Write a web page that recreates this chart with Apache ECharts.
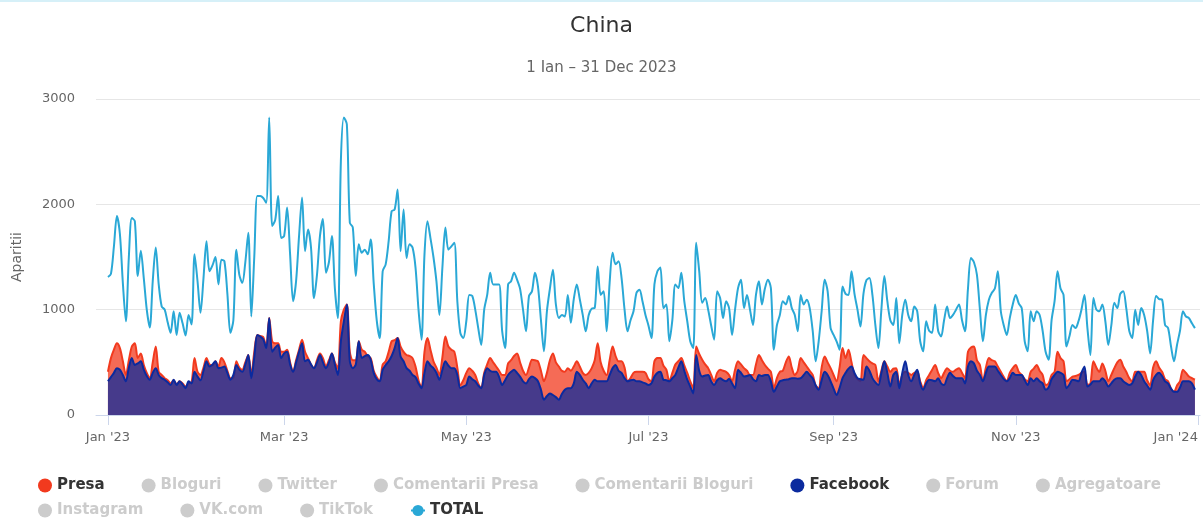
<!DOCTYPE html>
<html>
<head>
<meta charset="utf-8">
<script src="https://cdn.jsdelivr.net/npm/echarts@6/dist/echarts.min.js"></script>
<style>
  html, body { margin: 0; padding: 0; background: #fff; }
  #chart { width: 1203px; height: 519px; }
</style>
</head>
<body>
<div id="chart"></div>
<script>
// daily values, 1 Jan 2023 .. 31 Dec 2023 (365 days)
var total = [
    1310, 1340, 1600, 1890, 1720, 1250, 890, 1500, 1870, 1840,
    1320, 1560, 1300, 1000, 830, 1270, 1590, 1240, 1030, 1000,
    880, 780, 985, 760, 970, 870, 755, 950, 860, 1525,
    1270, 970, 1300, 1650, 1365, 1420, 1500, 1240, 1475, 1460,
    1150, 780, 900, 1570, 1330, 1255, 1450, 1730, 935, 1500,
    2080, 2080, 2060, 2015, 2825, 1795, 1850, 2080, 1680, 1700,
    1970, 1525, 1080, 1270, 1700, 2065, 1555, 1760, 1590, 1110,
    1330, 1700, 1860, 1350, 1450, 1700, 1200, 920, 2410, 2825,
    2760, 1825, 1780, 1320, 1620, 1540, 1570, 1525, 1665, 1250,
    900, 730, 1365, 1430, 1650, 1935, 1950, 2140, 1555, 1950,
    1490, 1620, 1590, 1400, 1000, 715, 1525, 1840, 1680, 1500,
    1270, 950, 1400, 1780, 1570, 1600, 1635, 1080, 780, 730,
    890, 1140, 1130, 1000, 825, 665, 1000, 1140, 1350, 1240,
    1240, 1240, 800, 635, 1240, 1270, 1350, 1285, 1200, 1000,
    795, 1130, 1175, 1350, 1220, 900, 605, 985, 1200, 1380,
    1050, 920, 950, 935, 1140, 875, 1100, 1240, 1100, 950,
    795, 950, 1010, 1015, 1410, 1140, 1175, 795, 1255, 1540,
    1430, 1460, 1300, 1000, 795, 900, 985, 1160, 1190, 1080,
    950, 850, 730, 1240, 1365, 1400, 1015, 1050, 700, 900,
    1240, 1205, 1350, 1080, 890, 700, 635, 1635, 1365, 1065,
    1110, 1000, 850, 715, 1175, 1110, 920, 1080, 1015, 760,
    1000, 1205, 1285, 1015, 1140, 1000, 855, 1140, 1270, 1050,
    1200, 1285, 1205, 620, 850, 950, 1080, 1050, 1130, 1015,
    950, 795, 1140, 1050, 1095, 1015, 800, 510, 700, 985,
    1285, 1175, 825, 760, 700, 620, 1220, 1150, 1140, 1365,
    1150, 1000, 840, 1150, 1280, 1300, 1140, 850, 635, 1000,
    1320, 1080, 900, 855, 1110, 680, 950, 1095, 950, 890,
    1030, 985, 700, 605, 890, 800, 780, 1050, 800, 745,
    900, 1030, 920, 950, 1000, 1050, 900, 795, 1200, 1490,
    1450, 1330, 1000, 700, 950, 1095, 1160, 1200, 1365, 985,
    850, 760, 920, 1050, 1140, 1060, 1015, 700, 605, 985,
    890, 985, 950, 800, 600, 525, 900, 1080, 1365, 1200,
    1140, 650, 750, 855, 825, 890, 1000, 1140, 825, 570,
    1110, 1000, 985, 1050, 890, 665, 850, 1065, 1015, 1150,
    1175, 1015, 800, 730, 1000, 855, 1015, 950, 800, 585,
    900, 1130, 1100, 1095, 855, 825, 650, 510, 665, 800,
    985, 935, 920, 870, 825
];
var presa = [
    410, 540, 620, 680, 635, 510, 380, 520, 650, 680,
    540, 585, 475, 400, 350, 500, 650, 410, 380, 350,
    330, 300, 330, 290, 320, 300, 270, 300, 310, 540,
    410, 380, 450, 540, 480, 470, 510, 460, 540, 500,
    420, 350, 350, 510, 450, 430, 500, 570, 380, 600,
    760, 750, 740, 650, 920, 700, 680, 680, 600, 600,
    620, 500, 410, 520, 620, 715, 600, 540, 480, 445,
    520, 585, 540, 460, 520, 585, 500, 445, 890, 1000,
    1050, 600, 520, 520, 700, 620, 600, 560, 540, 420,
    360, 320, 480, 510, 600, 700, 710, 730, 650, 600,
    570, 560, 540, 460, 330, 255, 600, 730, 620, 510,
    450, 380, 550, 745, 650, 620, 600, 450, 285, 330,
    400, 445, 420, 380, 300, 255, 400, 480, 540, 500,
    460, 420, 380, 380, 490, 520, 560, 585, 500, 420,
    380, 450, 525, 520, 510, 420, 320, 400, 520, 585,
    500, 460, 420, 410, 445, 420, 460, 510, 460, 400,
    380, 400, 445, 520, 680, 500, 420, 380, 520, 650,
    560, 510, 510, 450, 320, 350, 400, 410, 410, 410,
    400, 340, 320, 510, 540, 540, 470, 430, 320, 400,
    480, 510, 540, 470, 400, 320, 255, 650, 580, 525,
    480, 445, 380, 320, 400, 430, 420, 410, 380, 320,
    430, 510, 480, 445, 420, 380, 380, 480, 570, 520,
    475, 440, 410, 255, 350, 410, 420, 500, 555, 450,
    380, 420, 540, 500, 460, 420, 380, 280, 255, 450,
    555, 500, 445, 380, 320, 450, 635, 540, 620, 500,
    380, 340, 320, 570, 540, 510, 490, 475, 320, 420,
    510, 460, 410, 440, 445, 285, 380, 410, 400, 380,
    400, 410, 320, 255, 330, 380, 430, 475, 400, 350,
    400, 445, 420, 410, 430, 445, 400, 350, 600, 640,
    650, 520, 475, 320, 450, 540, 520, 510, 460, 410,
    360, 320, 400, 445, 475, 410, 380, 340, 320, 410,
    440, 475, 420, 380, 285, 300, 380, 410, 600, 540,
    510, 320, 340, 365, 370, 380, 400, 410, 285, 300,
    510, 450, 410, 490, 420, 320, 380, 445, 500, 525,
    460, 410, 350, 320, 410, 410, 410, 410, 330, 285,
    450, 510, 450, 410, 340, 320, 250, 220, 280, 320,
    430, 400, 365, 350, 335
];
var facebook = [
    320, 360, 400, 445, 430, 380, 320, 450, 540, 475,
    490, 510, 430, 370, 335, 400, 445, 380, 350, 335,
    310, 285, 335, 285, 320, 290, 255, 320, 300, 410,
    365, 330, 420, 510, 460, 480, 510, 445, 450, 460,
    400, 335, 380, 475, 430, 410, 480, 570, 350, 550,
    760, 745, 720, 635, 920, 600, 640, 665, 540, 585,
    600, 480, 410, 500, 600, 680, 510, 525, 480, 445,
    500, 570, 500, 445, 500, 585, 480, 380, 700, 890,
    1050, 510, 445, 480, 700, 540, 560, 570, 525, 400,
    340, 320, 430, 475, 510, 560, 635, 730, 555, 510,
    445, 420, 380, 360, 300, 255, 400, 510, 470, 445,
    400, 335, 430, 510, 470, 445, 445, 380, 255, 270,
    285, 365, 340, 320, 280, 255, 380, 445, 420, 410,
    410, 360, 285, 330, 380, 410, 430, 400, 365, 320,
    300, 340, 365, 350, 320, 240, 145, 180, 205, 190,
    170, 145, 200, 240, 255, 255, 300, 410, 380, 335,
    300, 255, 300, 335, 320, 320, 320, 320, 380, 445,
    475, 420, 400, 350, 320, 330, 335, 320, 320, 310,
    300, 285, 300, 365, 400, 410, 335, 330, 320, 350,
    380, 450, 510, 420, 335, 270, 205, 570, 420, 365,
    375, 380, 320, 285, 330, 350, 330, 320, 345, 300,
    255, 430, 400, 365, 370, 380, 340, 320, 380, 370,
    380, 380, 320, 220, 270, 320, 330, 335, 340, 350,
    350, 345, 350, 380, 410, 380, 350, 280, 240, 330,
    410, 380, 320, 250, 190, 255, 350, 400, 440, 460,
    400, 350, 340, 335, 460, 420, 350, 310, 285, 400,
    510, 400, 270, 380, 410, 255, 400, 510, 380, 320,
    380, 430, 300, 240, 300, 335, 330, 320, 350, 300,
    285, 350, 400, 370, 350, 350, 350, 300, 460, 510,
    490, 420, 380, 320, 400, 460, 460, 460, 420, 380,
    340, 320, 350, 400, 380, 380, 380, 330, 285, 350,
    320, 350, 320, 300, 240, 260, 340, 380, 410, 400,
    380, 255, 290, 335, 330, 320, 400, 460, 270, 290,
    320, 320, 320, 350, 320, 270, 300, 335, 350, 350,
    320, 300, 285, 300, 365, 410, 380, 320, 280, 240,
    330, 380, 400, 370, 320, 300, 250, 220, 220, 260,
    320, 320, 320, 300, 240
];

// x axis: day index from 1 Jan 2023
var tickDays = [0, 59, 120, 181, 243, 304, 365];
var tickLabels = ["Jan '23", "Mar '23", "May '23", "Jul '23", "Sep '23", "Nov '23", "Jan '24"];

var legendRow1 = ['Presa', 'Bloguri', 'Twitter', 'Comentarii Presa', 'Comentarii Bloguri', 'Facebook', 'Forum', 'Agregatoare'];
var legendRow2 = ['Instagram', 'VK.com', 'TikTok', 'TOTAL'];
var hiddenNames = ['Bloguri', 'Twitter', 'Comentarii Presa', 'Comentarii Bloguri', 'Forum', 'Agregatoare', 'Instagram', 'VK.com', 'TikTok'];

var font = 'DejaVu Sans';

function toPairs(arr) {
    var l = [];
    for (var i = 0; i < arr.length; i++) {
        l.push([i, arr[i]]);
    }
    return l;
}

function legendData(names) {
    var l = [];
    for (var i = 0; i < names.length; i++) {
        if (names[i] == 'TOTAL') {
            l.push({name: names[i]});
        } else {
            l.push({name: names[i], icon: 'circle'});
        }
    }
    return l;
}

var selected = {};
for (var i = 0; i < hiddenNames.length; i++) {
    selected[hiddenNames[i]] = false;
}

var legendBase = {
    left: 33,
    itemWidth: 14,
    itemHeight: 14,
    itemGap: 37,
    inactiveColor: '#cccccc',
    selected: selected,
    textStyle: {
        fontFamily: font,
        fontSize: 15,
        fontWeight: 'bold',
        color: '#333333'
    }
};

var series = [
    {
        name: 'Presa',
        type: 'line',
        data: toPairs(presa),
        smooth: 0.3,
        showSymbol: false,
        symbol: 'circle',
        color: '#f23a1e',
        lineStyle: {width: 2, color: '#f23a1e'},
        areaStyle: {color: '#f23a1e', opacity: 0.75},
        z: 2
    },
    {
        name: 'Facebook',
        type: 'line',
        data: toPairs(facebook),
        smooth: 0.3,
        showSymbol: false,
        symbol: 'circle',
        color: '#0b2a9e',
        lineStyle: {width: 2, color: '#0b2a9e'},
        areaStyle: {color: '#0b2a9e', opacity: 0.75},
        z: 3
    },
    {
        name: 'TOTAL',
        type: 'line',
        data: toPairs(total),
        smooth: 0.3,
        showSymbol: false,
        symbol: 'circle',
        symbolSize: 8,
        color: '#2aa8d6',
        lineStyle: {width: 2, color: '#2aa8d6'},
        z: 4
    }
];
for (var i = 0; i < hiddenNames.length; i++) {
    series.push({name: hiddenNames[i], type: 'line', data: [], color: '#cccccc'});
}

var myChart = echarts.init(document.getElementById('chart'));
var option = {
    animation: false,
    backgroundColor: '#ffffff',
    graphic: [{
        type: 'rect',
        left: 0,
        top: 0,
        shape: {width: 1203, height: 2},
        style: {fill: '#d6f0f8'}
    }],
    title: {
        text: 'China',
        subtext: '1 Ian \u2013 31 Dec 2023',
        left: 'center',
        top: 10,
        itemGap: 24,
        textStyle: {fontFamily: font, fontSize: 22, fontWeight: 'normal', color: '#333333'},
        subtextStyle: {fontFamily: font, fontSize: 15, color: '#666666'}
    },
    legend: [
        Object.assign({}, legendBase, {top: 473, data: legendData(legendRow1)}),
        Object.assign({}, legendBase, {top: 498, data: legendData(legendRow2)})
    ],
    grid: {
        left: 96,
        right: 3,
        top: 99,
        bottom: 104,
        outerBoundsMode: 'none'
    },
    xAxis: {
        type: 'value',
        min: -4,
        max: 365.7,
        axisLine: {show: true, lineStyle: {color: '#ccd6eb', width: 1}},
        axisTick: {show: true, length: 10, customValues: tickDays, lineStyle: {color: '#ccd6eb'}},
        axisLabel: {
            customValues: tickDays,
            margin: 16,
            fontFamily: font,
            fontSize: 13,
            color: '#666666',
            alignMaxLabel: 'right',
            formatter: function (v) {
                var k = tickDays.indexOf(Math.round(v));
                return k >= 0 ? tickLabels[k] : '';
            }
        },
        splitLine: {show: false}
    },
    yAxis: {
        type: 'value',
        min: 0,
        max: 3000,
        interval: 1000,
        name: 'Aparitii',
        nameLocation: 'middle',
        nameGap: 72,
        nameTextStyle: {fontFamily: font, fontSize: 14, color: '#666666'},
        axisLine: {show: false},
        axisTick: {show: false},
        axisLabel: {
            margin: 21,
            fontFamily: font,
            fontSize: 13,
            color: '#666666',
            formatter: function (v) {
                return String(v);
            }
        },
        splitLine: {lineStyle: {color: '#e6e6e6'}}
    },
    series: series
};
myChart.setOption(option);
</script>
</body>
</html>
